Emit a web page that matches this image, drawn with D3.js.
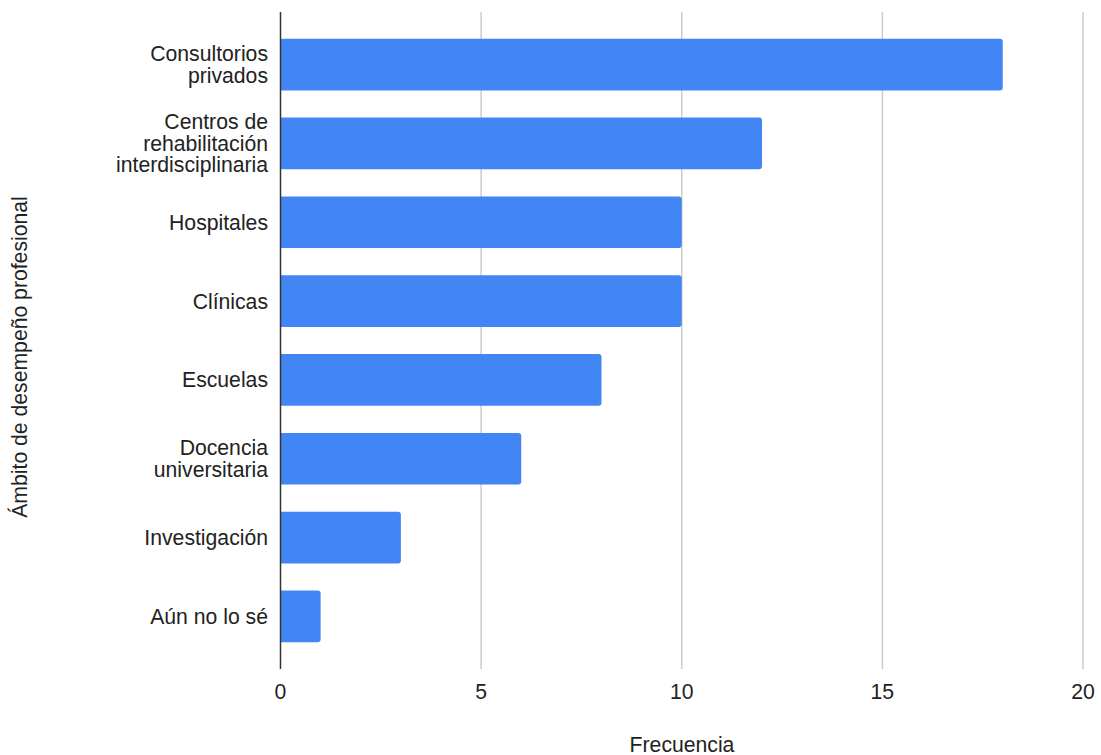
<!DOCTYPE html>
<html><head><meta charset="utf-8">
<script src="https://cdn.jsdelivr.net/npm/d3@7/dist/d3.min.js"></script>
<style>body{margin:0;background:#fff}svg{display:block}</style>
</head><body><svg id="c" width="1101" height="755"></svg>
<script>
const categories = [["Consultorios","privados"],["Centros de","rehabilitación","interdisciplinaria"],["Hospitales"],["Clínicas"],["Escuelas"],["Docencia","universitaria"],["Investigación"],["Aún no lo sé"]];
const values = [18, 12, 10, 10, 8, 6, 3, 1];
const xTicks = [0, 5, 10, 15, 20];
const xTitle = "Frecuencia";
const yTitle = "Ámbito de desempeño profesional";

(function(){
const svg = d3.select("#c");
const font = "Liberation Sans, Arial, sans-serif";
const fs = 21.2;
const pL = 280.5, pR = 1083, pT = 12, pB = 669;
const x = d3.scaleLinear().domain([0, 20]).range([pL, pR]);
const ids = categories.map((c,i)=>i);
const y = d3.scaleBand().domain(ids).range([pT, pB]).paddingInner(0.345).paddingOuter(0.34);

svg.append("g").selectAll("line").data(xTicks.filter(t=>t>0)).join("line")
  .attr("x1", d=>x(d)).attr("x2", d=>x(d)).attr("y1", pT).attr("y2", pB)
  .attr("stroke", "#cccccc").attr("stroke-width", 1.5);

const r = 3;
svg.append("g").selectAll("path").data(values).join("path")
  .attr("fill", "#4285f4")
  .attr("d", (d,i)=>{
    const x0 = x(0), x1 = x(d), y0 = y(i), h = y.bandwidth();
    return `M${x0},${y0}H${x1-r}Q${x1},${y0} ${x1},${y0+r}V${y0+h-r}Q${x1},${y0+h} ${x1-r},${y0+h}H${x0}Z`;
  });

svg.append("line").attr("x1", x(0)).attr("x2", x(0)).attr("y1", pT).attr("y2", pB)
  .attr("stroke", "#333333").attr("stroke-width", 1.5);

svg.append("g").selectAll("text").data(xTicks).join("text")
  .attr("x", d=>x(d)).attr("y", 692).attr("dy", "0.35em")
  .attr("text-anchor", "middle").attr("font-family", font).attr("font-size", fs)
  .attr("fill", "#222").text(d=>d);

const lh = 21.5;
const lg = svg.append("g");
categories.forEach((lines,i)=>{
  const cy = y(i) + y.bandwidth()/2;
  const t = lg.append("text").attr("text-anchor","end").attr("font-family",font)
    .attr("font-size",fs).attr("fill","#222");
  lines.forEach((s,j)=>{
    t.append("tspan").attr("x", 268).attr("y", cy + (j-(lines.length-1)/2)*lh).attr("dy","0.35em").text(s);
  });
});

svg.append("text").attr("x", 682).attr("y", 745).attr("dy","0.35em").attr("text-anchor","middle")
  .attr("font-family",font).attr("font-size",fs).attr("fill","#222").text(xTitle);
svg.append("text").attr("transform","translate(20,357) rotate(-90)").attr("dy","0.35em")
  .attr("text-anchor","middle").attr("font-family",font).attr("font-size",fs).attr("fill","#222").text(yTitle);
})();
</script></body></html>
